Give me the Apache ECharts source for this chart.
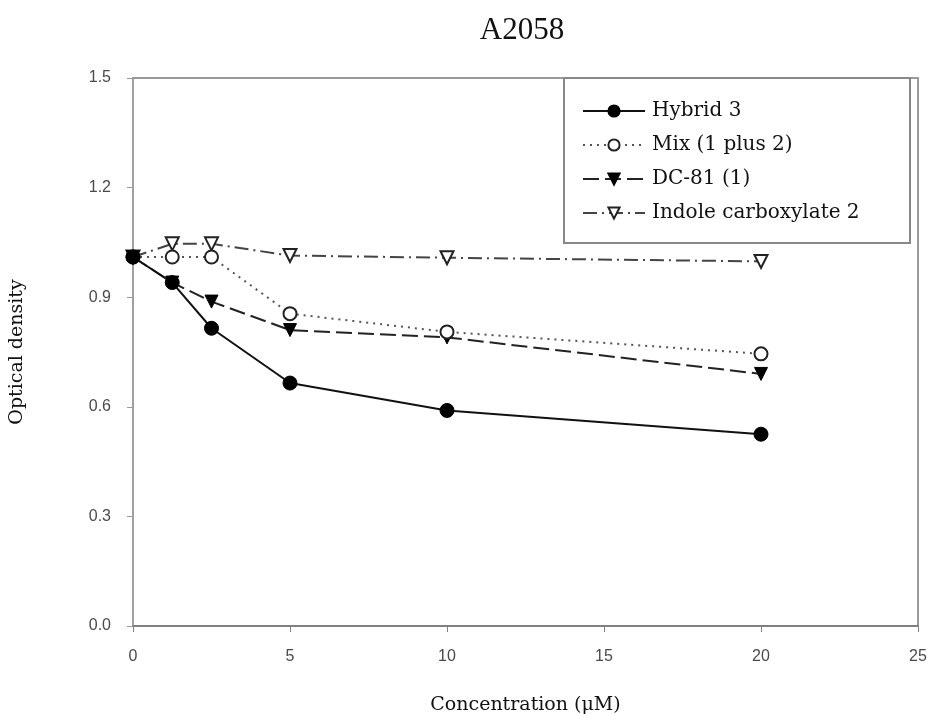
<!DOCTYPE html>
<html lang="en">
  <head>
    <meta charset="UTF-8" />
    <title>A2058</title>
    <script src="https://cdn.jsdelivr.net/npm/echarts@6/dist/echarts.min.js"></script>
    <style>
      html, body { margin: 0; padding: 0; background: #fff; }
      #chart { width: 931px; height: 717px; }
    </style>
  </head>
  <body>
    <div id="chart"></div>
  </body>
</html>
<script>
  // concentrations (µM)
  const concentrations = [0, 1.25, 2.5, 5, 10, 20];
  const hybrid3 = [1.01, 0.94, 0.815, 0.665, 0.59, 0.525];
  const mix = [1.01, 1.01, 1.01, 0.855, 0.805, 0.745];
  const dc81 = [1.01, 0.94, 0.888, 0.81, 0.79, 0.69];
  const indole = [1.01, 1.046, 1.046, 1.014, 1.008, 0.998];
  const yTicks = [0, 0.3, 0.6, 0.9, 1.2, 1.5];

  const pairs = (ys) => concentrations.map((x, i) => [x, ys[i]]);
  const serif = "DejaVu Serif";

  const chart = echarts.init(document.getElementById("chart"));
  const option = {
    backgroundColor: "#fff",
    animation: false,
    title: {
      text: "A2058",
      left: 517,
      top: 10,
      textAlign: "center",
      textStyle: { fontFamily: "Liberation Serif", fontSize: 31, fontWeight: "normal", color: "#111" },
    },
    grid: {
      left: 133,
      right: 13,
      top: 78,
      bottom: 91,
      outerBoundsMode: "none",
      show: true,
      borderColor: "#9a9a9a",
      borderWidth: 2,
    },
    xAxis: {
      type: "value",
      min: 0,
      max: 25,
      interval: 5,
      name: "Concentration (μM)",
      nameLocation: "middle",
      nameGap: 70,
      nameTextStyle: { fontFamily: serif, fontSize: 19, color: "#111" },
      axisLine: { lineStyle: { color: "#808080", width: 2 } },
      axisTick: { show: true, length: 6, lineStyle: { color: "#808080" } },
      axisLabel: { fontFamily: "Liberation Sans", fontSize: 16, color: "#4a4a4a", margin: 23 },
      splitLine: { show: false },
    },
    yAxis: {
      type: "value",
      min: 0,
      max: 1.5,
      interval: 0.3,
      name: "Optical density",
      nameLocation: "middle",
      nameGap: 106,
      nameTextStyle: { fontFamily: serif, fontSize: 19, color: "#111" },
      axisLine: { show: true, lineStyle: { color: "#a0a0a0", width: 2 } },
      axisTick: { show: true, length: 6, lineStyle: { color: "#999" } },
      axisLabel: {
        fontFamily: "Liberation Sans",
        fontSize: 16,
        color: "#4a4a4a",
        margin: 22,
        formatter: (v) => (yTicks.some((t) => Math.abs(t - v) < 1e-6) ? v.toFixed(1) : ""),
      },
      splitLine: { show: false },
    },
    graphic: [
      {
        type: "rect",
        left: 563,
        top: 77,
        shape: { width: 346, height: 165 },
        style: { fill: "#fff", stroke: "#888", lineWidth: 2 },
        z: 5,
      },
    ],
    legend: {
      orient: "vertical",
      left: 577,
      top: 96,
      itemWidth: 62,
      itemHeight: 14,
      itemGap: 14,
      z: 10,
      textStyle: {
        fontFamily: serif,
        fontSize: 20,
        color: "#111",
        lineHeight: 20,
        padding: [0, 0, 0, 2],
      },
      data: ["Hybrid 3", "Mix (1 plus 2)", "DC-81 (1)", "Indole carboxylate 2"],
    },
    series: [
      {
        name: "Indole carboxylate 2",
        type: "line",
        data: pairs(indole),
        symbol: "triangle",
        symbolRotate: 180,
        symbolSize: 13,
        lineStyle: { color: "#444", width: 2, type: [14, 5, 2, 5] },
        itemStyle: { color: "#fff", borderColor: "#222", borderWidth: 2 },
      },
      {
        name: "DC-81 (1)",
        type: "line",
        data: pairs(dc81),
        symbol: "triangle",
        symbolRotate: 180,
        symbolSize: 13,
        lineStyle: { color: "#222", width: 2, type: [16, 6] },
        itemStyle: { color: "#000", borderColor: "#000", borderWidth: 1 },
      },
      {
        name: "Mix (1 plus 2)",
        type: "line",
        data: pairs(mix),
        symbol: "circle",
        symbolSize: 13,
        lineStyle: { color: "#555", width: 2, type: [2, 5] },
        itemStyle: { color: "#fff", borderColor: "#222", borderWidth: 2 },
      },
      {
        name: "Hybrid 3",
        type: "line",
        data: pairs(hybrid3),
        symbol: "circle",
        symbolSize: 14,
        lineStyle: { color: "#111", width: 2 },
        itemStyle: { color: "#000", borderColor: "#000", borderWidth: 1 },
      },
    ],
  };
  chart.setOption(option);
</script>
